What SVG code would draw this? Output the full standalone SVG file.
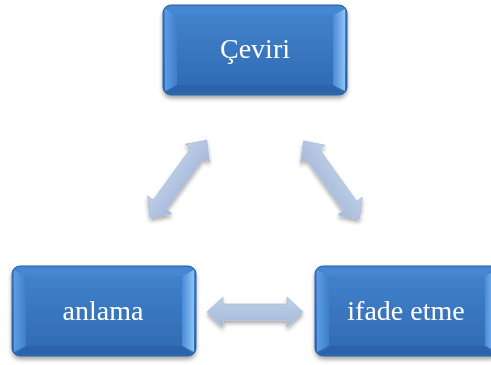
<svg xmlns="http://www.w3.org/2000/svg" width="491" height="365" viewBox="0 0 491 365">
<defs>
<linearGradient id="boxg" x1="0" y1="0" x2="0" y2="1">
<stop offset="0" stop-color="#4384d0"/>
<stop offset="1" stop-color="#2f69b0"/>
</linearGradient>
<linearGradient id="leftf" x1="0" y1="0" x2="1" y2="0">
<stop offset="0" stop-color="#5d9ce6"/>
<stop offset="1" stop-color="#3f7fca"/>
</linearGradient>
<linearGradient id="rightf" x1="0" y1="0" x2="1" y2="0">
<stop offset="0" stop-color="#4a8ad6"/>
<stop offset="1" stop-color="#8cc4f6"/>
</linearGradient>
<linearGradient id="arrg" x1="0" y1="0" x2="0" y2="1">
<stop offset="0" stop-color="#bfcfe8"/>
<stop offset="1" stop-color="#a5b9da"/>
</linearGradient>
<filter id="sh" x="-20%" y="-20%" width="140%" height="150%">
<feGaussianBlur in="SourceAlpha" stdDeviation="2"/>
<feOffset dx="0" dy="3" result="b"/>
<feComponentTransfer><feFuncA type="linear" slope="0.35"/></feComponentTransfer>
<feMerge><feMergeNode/><feMergeNode in="SourceGraphic"/></feMerge>
</filter>
<path id="dar" d="M-48,0 L-32,-15 L-32,-8 L32,-8 L32,-15 L48,0 L32,15 L32,8 L-32,8 L-32,15 Z"/>
<g id="bevel">
<rect x="0" y="0" width="184" height="90" rx="8" fill="url(#boxg)" stroke="#2a5e9e" stroke-width="1"/>
<polygon points="2,4 14,10 14,80 2,86" fill="url(#leftf)"/>
<polygon points="182,4 170,10 170,80 182,86" fill="url(#rightf)"/>
<polygon points="4,2 14,10 170,10 180,2" fill="#4a8ad4" opacity="0.6"/>
<polygon points="4,88 14,80 170,80 180,88" fill="#2b62a6" opacity="0.8"/>
</g>
<style>
.t{font-family:"Liberation Serif","DejaVu Serif",serif;font-size:28px;fill:#ffffff;text-anchor:middle}
.a{fill:url(#arrg);stroke:#a9bcdb;stroke-width:0.8}
</style>
</defs>
<g id="connectors" filter="url(#sh)">
<use href="#dar" class="a" transform="translate(178.5,179) rotate(-54)"/>
<use href="#dar" class="a" transform="translate(331.5,180) rotate(54.5)"/>
<use href="#dar" class="a" transform="translate(255,312)"/>
</g>
<g id="node-ceviri" filter="url(#sh)">
<use href="#bevel" transform="translate(163,5)"/>
<text class="t" x="255" y="58">Çeviri</text>
</g>
<g id="node-anlama" filter="url(#sh)">
<use href="#bevel" transform="translate(12,266)"/>
<text class="t" x="103" y="320">anlama</text>
</g>
<g id="node-ifade" filter="url(#sh)">
<use href="#bevel" transform="translate(315,266)"/>
<text class="t" x="406" y="320">ifade etme</text>
</g>
</svg>
